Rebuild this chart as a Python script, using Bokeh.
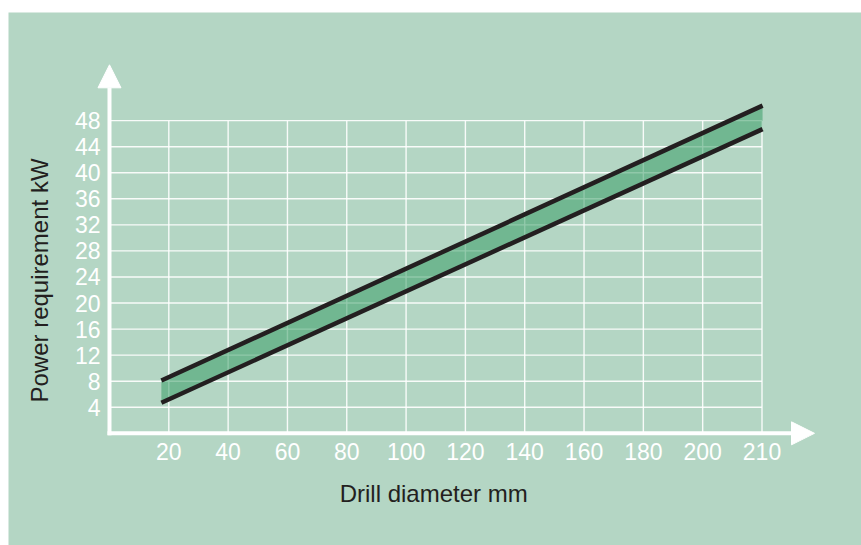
import math
from bokeh.plotting import figure
from bokeh.models import FixedTicker, Arrow, NormalHead, Label, Spacer, Range1d
from bokeh.layouts import column, row
from bokeh.embed import file_html
from bokeh.resources import INLINE

# ---- data (axis positions; the last x tick position carries the label "210") ----
x_ticks = [20, 40, 60, 80, 100, 120, 140, 160, 180, 200, 220]
x_tick_labels = ["20", "40", "60", "80", "100", "120", "140", "160", "180", "200", "210"]
y_ticks = [4, 8, 12, 16, 20, 24, 28, 32, 36, 40, 44, 48]
y_tick_labels = [str(v) for v in y_ticks]

diameter_pos = [17.5, 220.2]
power_upper = [8.1, 50.3]
power_lower = [4.7, 46.7]

BG = "#b4d6c4"
INK = "#231f20"
FONT = "Liberation Sans"

p = figure(width=853, height=533,
           x_range=Range1d(-34.05, 253.55), y_range=Range1d(-17.22, 64.60),
           output_backend="svg", toolbar_location=None,
           min_border_left=0, min_border_right=0, min_border_top=0, min_border_bottom=0)
p.title.visible = False
p.background_fill_color = BG
p.border_fill_color = BG
p.outline_line_color = None
p.xgrid.visible = False
p.ygrid.visible = False

for ax, ticks, labels in ((p.xaxis[0], x_ticks, x_tick_labels), (p.yaxis[0], y_ticks, y_tick_labels)):
    ax.ticker = FixedTicker(ticks=ticks)
    ax.major_label_overrides = {t: l for t, l in zip(ticks, labels)}
    ax.fixed_location = 0
    ax.axis_line_color = None
    ax.major_tick_line_color = None
    ax.minor_tick_line_color = None
    ax.major_tick_out = 0
    ax.major_tick_in = 0
    ax.minor_tick_out = 0
    ax.minor_tick_in = 0
    ax.major_label_text_color = "white"
    ax.major_label_text_font = FONT
    ax.major_label_text_font_size = "23px"
p.xaxis.major_label_standoff = 10
p.yaxis.major_label_standoff = 9

# grid
p.segment(x0=x_ticks, y0=[0] * len(x_ticks), x1=x_ticks, y1=[max(y_ticks)] * len(x_ticks),
          line_color="white", line_width=1.4, line_alpha=0.9)
p.segment(x0=[0] * len(y_ticks), y0=y_ticks, x1=[max(x_ticks)] * len(y_ticks), y1=y_ticks,
          line_color="white", line_width=1.4, line_alpha=0.9)

# band and bounding lines
p.varea(x=diameter_pos, y1=power_lower, y2=power_upper, fill_color="#3a9e68", fill_alpha=0.55)
p.line(diameter_pos, power_upper, line_color=INK, line_width=4.5)
p.line(diameter_pos, power_lower, line_color=INK, line_width=4.5)

# axes with arrows
p.add_layout(Arrow(end=NormalHead(size=23, fill_color="white", line_color="white", line_width=1),
                   x_start=0, y_start=-0.31, x_end=0, y_end=56.57,
                   line_color="white", line_width=4))
p.add_layout(Arrow(end=NormalHead(size=23, fill_color="white", line_color="white", line_width=1),
                   x_start=-0.67, y_start=0, x_end=237.7, y_end=0,
                   line_color="white", line_width=4))

# axis titles
p.add_layout(Label(x=109.3, y=-9.24, text="Drill diameter mm", text_align="center",
                   text_baseline="middle", text_font_size="24px", text_color=INK, text_font=FONT))
p.add_layout(Label(x=-23.6, y=23.46, text="Power requirement kW", angle=math.pi / 2,
                   text_align="center", text_baseline="middle", text_font_size="24px",
                   text_color=INK, text_font=FONT))

layout = column(Spacer(width=861, height=12), row(Spacer(width=8, height=533), p, spacing=0), spacing=0)
open("out.html", "w").write(file_html(layout, INLINE))
